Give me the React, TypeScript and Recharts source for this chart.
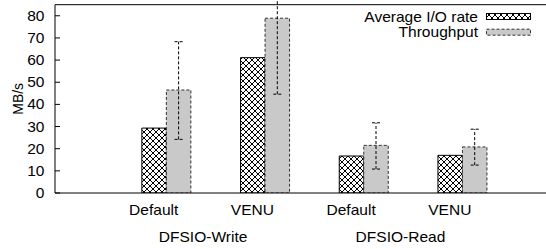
import React from 'react';
import { BarChart, Bar, XAxis, YAxis, ErrorBar, Legend } from 'recharts';

const categories = ['Default', 'VENU', 'Default', 'VENU'];
const groups = ['DFSIO-Write', 'DFSIO-Write', 'DFSIO-Read', 'DFSIO-Read'];
const avgIoRate = [29.3, 61.1, 16.7, 17.0];
const throughput = [46.5, 78.9, 21.5, 20.8];
const throughputErrLow = [22.3, 34.3, 10.7, 8.2];
const throughputErrHigh = [21.8, 34.3, 10.2, 8.0];
const yTicks = [0, 10, 20, 30, 40, 50, 60, 70, 80];
const yDomain: [number, number] = [0, 85];

const data = categories.map((c, i) => ({
  cat: c,
  group: groups[i],
  avg: avgIoRate[i],
  thr: throughput[i],
  err: [throughputErrLow[i], throughputErrHigh[i]],
}));

const FONT = '"Liberation Sans", Arial, Helvetica, sans-serif';
const FS = 14;
const SX = 1.11;
const GRAY = '#c9c9c9';
const DASH_STROKE = '#333';
const PAD = { left: 49.35, right: 49.35 };

const YTick = (props: any) => {
  const { x, y, payload } = props;
  return (
    <g transform={`translate(${x},${y}) scale(${SX},1)`}>
      <text x={0} y={0} dy={5} textAnchor="end" fontSize={FS} fontFamily={FONT} fill="#000">
        {payload.value}
      </text>
    </g>
  );
};

const makeXTick = (dy: number) => (props: any) => {
  const { x, y, payload } = props;
  return (
    <g transform={`translate(${x},${y}) scale(${SX},1)`}>
      <text x={0} y={0} dy={dy} textAnchor="middle" fontSize={FS} fontFamily={FONT} fill="#000">
        {payload.value}
      </text>
    </g>
  );
};
const CatTick = makeXTick(22.5);
const GroupTick = makeXTick(21.5);

const YLabel = (props: any) => {
  const vb = props.viewBox || { x: 0, y: 0, width: 0, height: 0 };
  const cy = vb.y + vb.height / 2;
  return (
    <g transform={`translate(17.5,${cy}) rotate(-90) scale(1,${SX})`}>
      <text x={0} y={0} dy={5} textAnchor="middle" fontSize={FS} fontFamily={FONT} fill="#000">
        MB/s
      </text>
    </g>
  );
};

const LegendContent = (props: any) => {
  const items = (props.payload || []).filter(
    (p: any) => p.type !== 'none' && p.dataKey !== 'spacer'
  );
  return (
    <svg width={560} height={44} style={{ display: 'block' }}>
      <defs>
        <pattern id="xhatchLegend" width="6" height="6" patternUnits="userSpaceOnUse">
          <rect width="6" height="6" fill="#fff" />
          <path d="M0,0 L6,6 M0,6 L6,0" stroke="#000" strokeWidth="1" />
        </pattern>
      </defs>
      {items.map((it: any, i: number) => {
        const cy = 16.5 + i * 15.7;
        const isAvg = it.dataKey === 'avg';
        return (
          <g key={i}>
            <g transform={`translate(478,${cy}) scale(${SX},1)`}>
              <text x={0} y={0} dy={5} textAnchor="end" fontSize={FS} fontFamily={FONT} fill="#000">
                {it.value}
              </text>
            </g>
            <rect
              x={486.5}
              y={cy - 3}
              width={44}
              height={6}
              fill={isAvg ? 'url(#xhatchLegend)' : GRAY}
              stroke={isAvg ? '#000' : DASH_STROKE}
              strokeWidth={1}
              strokeDasharray={isAvg ? undefined : '3 2'}
            />
          </g>
        );
      })}
    </svg>
  );
};

export default function App() {
  return (
    <div
      style={{
        position: 'fixed',
        left: 0,
        top: 0,
        width: 546,
        height: 249,
        overflow: 'hidden',
        background: '#fff',
      }}
    >
      <BarChart
        width={560}
        height={249}
        data={data}
        margin={{ top: 3.7, right: 10.5, left: 0, bottom: 0 }}
        barGap={0}
      >
        <defs>
          <pattern id="xhatch" width="6" height="6" patternUnits="userSpaceOnUse">
            <rect width="6" height="6" fill="#fff" />
            <path d="M0,0 L6,6 M0,6 L6,0" stroke="#000" strokeWidth="1" />
          </pattern>
        </defs>
        <XAxis
          dataKey="cat"
          xAxisId={0}
          height={28}
          interval={0}
          padding={PAD}
          tickSize={0}
          tickMargin={0}
          tickLine={false}
          axisLine={{ stroke: '#000' }}
          tick={<CatTick />}
        />
        <XAxis
          dataKey="group"
          xAxisId="group"
          height={28}
          interval={0}
          padding={PAD}
          allowDuplicatedCategory={false}
          tickSize={0}
          tickMargin={0}
          tickLine={false}
          axisLine={false}
          tick={<GroupTick />}
        />
        <XAxis
          dataKey="cat"
          xAxisId="top"
          orientation="top"
          height={1}
          interval={0}
          padding={PAD}
          tickSize={-5}
          tick={false}
          tickLine={{ stroke: '#000' }}
          axisLine={{ stroke: '#000' }}
        />
        <YAxis
          yAxisId={0}
          width={55}
          domain={yDomain}
          ticks={yTicks}
          interval={0}
          allowDataOverflow
          tickSize={-5}
          tickMargin={15.5}
          tickLine={{ stroke: '#000' }}
          axisLine={{ stroke: '#000' }}
          tick={<YTick />}
          label={{ value: 'MB/s', content: <YLabel /> }}
        />
        <YAxis
          yAxisId="right"
          orientation="right"
          width={1}
          domain={yDomain}
          ticks={yTicks}
          interval={0}
          allowDataOverflow
          tickSize={-5}
          tick={false}
          tickLine={{ stroke: '#000' }}
          axisLine={{ stroke: '#000' }}
        />
        <Legend
          layout="horizontal"
          align="center"
          verticalAlign="middle"
          content={<LegendContent />}
          wrapperStyle={{ position: 'absolute', left: 0, top: 0, width: 560, height: 44 }}
        />
        <Bar
          dataKey="spacer"
          barSize={24.5}
          legendType="none"
          fill="none"
          isAnimationActive={false}
        />
        <Bar
          dataKey="avg"
          name="Average I/O rate"
          barSize={24.5}
          fill="url(#xhatch)"
          stroke="#000"
          strokeWidth={1}
          isAnimationActive={false}
        />
        <Bar
          dataKey="thr"
          name="Throughput"
          barSize={24.5}
          fill={GRAY}
          stroke={DASH_STROKE}
          strokeWidth={1}
          strokeDasharray="3 2"
          isAnimationActive={false}
        >
          <ErrorBar
            dataKey="err"
            direction="y"
            width={4}
            stroke="#000"
            strokeWidth={1}
            strokeDasharray="3 2"
            isAnimationActive={false}
          />
        </Bar>
      </BarChart>
    </div>
  );
}
